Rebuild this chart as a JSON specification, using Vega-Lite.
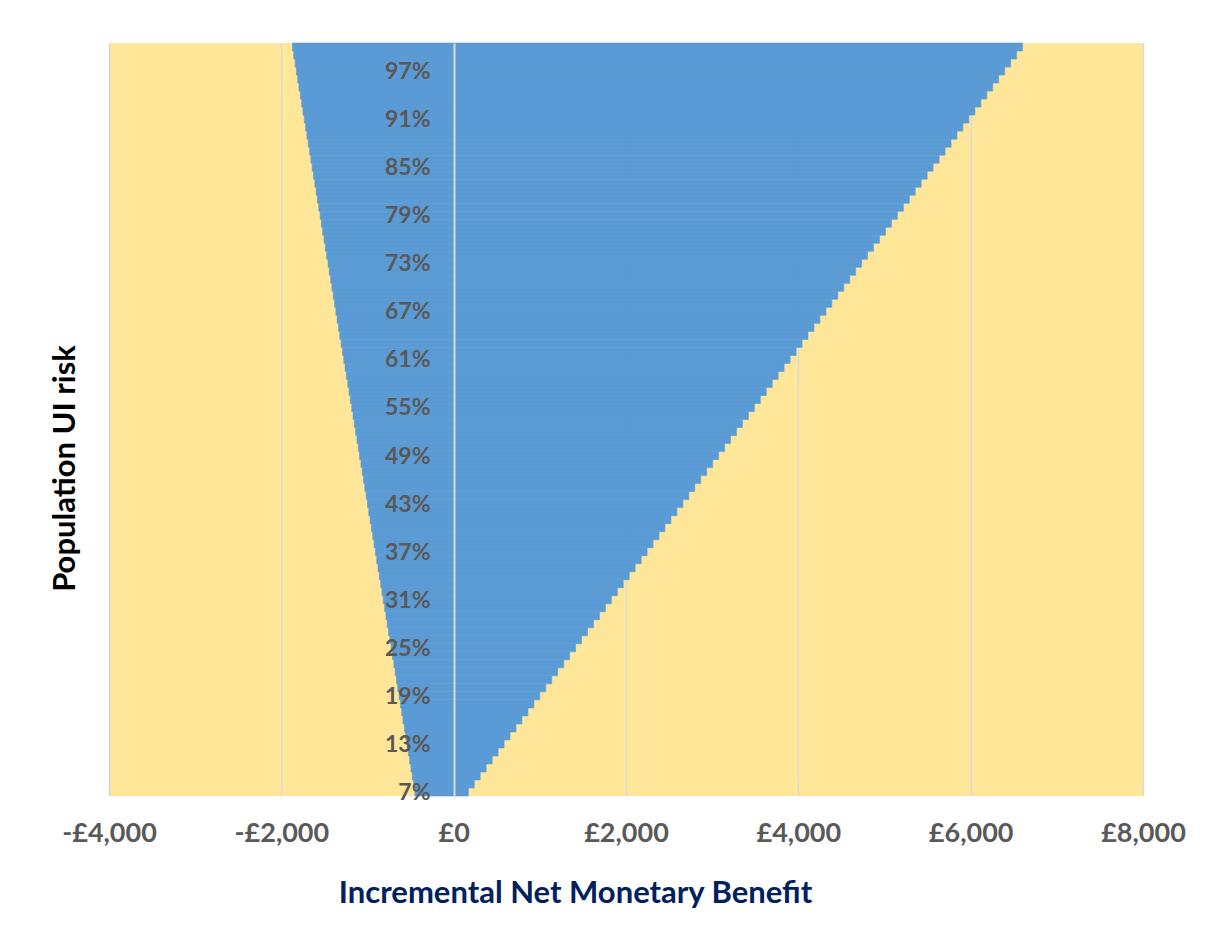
{
  "$schema": "https://vega.github.io/schema/vega-lite/v6.json",
  "width": 1034,
  "height": 753,
  "autosize": {"type": "none"},
  "padding": {"left": 109, "top": 43, "right": 67, "bottom": 135},
  "background": "white",
  "config": {
    "view": {"fill": "#FFE699", "stroke": null},
    "font": "Lato"
  },
  "data": {
    "values": [
      {"risk": 7, "lo": -450, "hi": 170},
      {"risk": 8, "lo": -465, "hi": 239},
      {"risk": 9, "lo": -481, "hi": 308},
      {"risk": 10, "lo": -496, "hi": 377},
      {"risk": 11, "lo": -511, "hi": 447},
      {"risk": 12, "lo": -526, "hi": 516},
      {"risk": 13, "lo": -542, "hi": 585},
      {"risk": 14, "lo": -557, "hi": 654},
      {"risk": 15, "lo": -572, "hi": 723},
      {"risk": 16, "lo": -588, "hi": 792},
      {"risk": 17, "lo": -603, "hi": 862},
      {"risk": 18, "lo": -618, "hi": 931},
      {"risk": 19, "lo": -633, "hi": 1000},
      {"risk": 20, "lo": -649, "hi": 1069},
      {"risk": 21, "lo": -664, "hi": 1138},
      {"risk": 22, "lo": -679, "hi": 1207},
      {"risk": 23, "lo": -694, "hi": 1277},
      {"risk": 24, "lo": -710, "hi": 1346},
      {"risk": 25, "lo": -725, "hi": 1415},
      {"risk": 26, "lo": -740, "hi": 1484},
      {"risk": 27, "lo": -756, "hi": 1553},
      {"risk": 28, "lo": -771, "hi": 1622},
      {"risk": 29, "lo": -786, "hi": 1692},
      {"risk": 30, "lo": -801, "hi": 1761},
      {"risk": 31, "lo": -817, "hi": 1830},
      {"risk": 32, "lo": -832, "hi": 1899},
      {"risk": 33, "lo": -847, "hi": 1968},
      {"risk": 34, "lo": -863, "hi": 2037},
      {"risk": 35, "lo": -878, "hi": 2106},
      {"risk": 36, "lo": -893, "hi": 2176},
      {"risk": 37, "lo": -908, "hi": 2245},
      {"risk": 38, "lo": -924, "hi": 2314},
      {"risk": 39, "lo": -939, "hi": 2383},
      {"risk": 40, "lo": -954, "hi": 2452},
      {"risk": 41, "lo": -970, "hi": 2521},
      {"risk": 42, "lo": -985, "hi": 2591},
      {"risk": 43, "lo": -1000, "hi": 2660},
      {"risk": 44, "lo": -1015, "hi": 2729},
      {"risk": 45, "lo": -1031, "hi": 2798},
      {"risk": 46, "lo": -1046, "hi": 2867},
      {"risk": 47, "lo": -1061, "hi": 2936},
      {"risk": 48, "lo": -1076, "hi": 3006},
      {"risk": 49, "lo": -1092, "hi": 3075},
      {"risk": 50, "lo": -1107, "hi": 3144},
      {"risk": 51, "lo": -1122, "hi": 3213},
      {"risk": 52, "lo": -1138, "hi": 3282},
      {"risk": 53, "lo": -1153, "hi": 3351},
      {"risk": 54, "lo": -1168, "hi": 3421},
      {"risk": 55, "lo": -1183, "hi": 3490},
      {"risk": 56, "lo": -1199, "hi": 3559},
      {"risk": 57, "lo": -1214, "hi": 3628},
      {"risk": 58, "lo": -1229, "hi": 3697},
      {"risk": 59, "lo": -1245, "hi": 3766},
      {"risk": 60, "lo": -1260, "hi": 3835},
      {"risk": 61, "lo": -1275, "hi": 3905},
      {"risk": 62, "lo": -1290, "hi": 3974},
      {"risk": 63, "lo": -1306, "hi": 4043},
      {"risk": 64, "lo": -1321, "hi": 4112},
      {"risk": 65, "lo": -1336, "hi": 4181},
      {"risk": 66, "lo": -1352, "hi": 4250},
      {"risk": 67, "lo": -1367, "hi": 4320},
      {"risk": 68, "lo": -1382, "hi": 4389},
      {"risk": 69, "lo": -1397, "hi": 4458},
      {"risk": 70, "lo": -1413, "hi": 4527},
      {"risk": 71, "lo": -1428, "hi": 4596},
      {"risk": 72, "lo": -1443, "hi": 4665},
      {"risk": 73, "lo": -1458, "hi": 4735},
      {"risk": 74, "lo": -1474, "hi": 4804},
      {"risk": 75, "lo": -1489, "hi": 4873},
      {"risk": 76, "lo": -1504, "hi": 4942},
      {"risk": 77, "lo": -1520, "hi": 5011},
      {"risk": 78, "lo": -1535, "hi": 5080},
      {"risk": 79, "lo": -1550, "hi": 5150},
      {"risk": 80, "lo": -1565, "hi": 5219},
      {"risk": 81, "lo": -1581, "hi": 5288},
      {"risk": 82, "lo": -1596, "hi": 5357},
      {"risk": 83, "lo": -1611, "hi": 5426},
      {"risk": 84, "lo": -1627, "hi": 5495},
      {"risk": 85, "lo": -1642, "hi": 5564},
      {"risk": 86, "lo": -1657, "hi": 5634},
      {"risk": 87, "lo": -1672, "hi": 5703},
      {"risk": 88, "lo": -1688, "hi": 5772},
      {"risk": 89, "lo": -1703, "hi": 5841},
      {"risk": 90, "lo": -1718, "hi": 5910},
      {"risk": 91, "lo": -1734, "hi": 5979},
      {"risk": 92, "lo": -1749, "hi": 6049},
      {"risk": 93, "lo": -1764, "hi": 6118},
      {"risk": 94, "lo": -1779, "hi": 6187},
      {"risk": 95, "lo": -1795, "hi": 6256},
      {"risk": 96, "lo": -1810, "hi": 6325},
      {"risk": 97, "lo": -1825, "hi": 6394},
      {"risk": 98, "lo": -1840, "hi": 6464},
      {"risk": 99, "lo": -1856, "hi": 6533},
      {"risk": 100, "lo": -1871, "hi": 6602}
    ]
  },
  "mark": {"type": "bar", "color": "#5B9BD5", "stroke": "#5B9BD5", "strokeWidth": 0.6},
  "encoding": {
    "y": {
      "field": "risk",
      "type": "ordinal",
      "sort": "descending",
      "scale": {"paddingInner": 0, "paddingOuter": 0},
      "axis": {
        "values": [7, 13, 19, 25, 31, 37, 43, 49, 55, 61, 67, 73, 79, 85, 91, 97],
        "labelExpr": "datum.value + '%'",
        "offset": -345,
        "zindex": 1,
        "grid": false,
        "ticks": false,
        "domainColor": "#D9D9D9",
        "domainWidth": 2,
        "labelPadding": 24,
        "labelFont": "Lato",
        "labelFontWeight": "bold",
        "labelFontSize": 23,
        "labelColor": "#595959",
        "labelOffset": 1,
        "title": "Population UI risk",
        "titleFont": "Lato",
        "titleFontSize": 31,
        "titleFontWeight": "bold",
        "titleColor": "#000000",
        "titleAngle": 270,
        "titleX": -389,
        "titleY": 425,
        "titleAlign": "center",
        "titleBaseline": "middle"
      }
    },
    "x": {
      "field": "lo",
      "type": "quantitative",
      "scale": {"domain": [-4000, 8000], "nice": false, "zero": false},
      "axis": {
        "values": [-4000, -2000, 0, 2000, 4000, 6000, 8000],
        "labelExpr": "(datum.value < 0 ? '-' : '') + '£' + format(abs(datum.value), ',.0f')",
        "grid": true,
        "gridColor": "#D9D9D9",
        "gridWidth": 1.5,
        "domain": false,
        "ticks": false,
        "labelPadding": 24,
        "labelFont": "Lato",
        "labelFontWeight": "bold",
        "labelFontSize": 27,
        "labelColor": "#595959",
        "labelFlush": false,
        "title": "Incremental Net Monetary Benefit",
        "titleFont": "Lato",
        "titleFontSize": 31,
        "titleFontWeight": "bold",
        "titleColor": "#002060",
        "titleX": 466,
        "titleY": 97,
        "titleAlign": "center",
        "titleBaseline": "middle"
      }
    },
    "x2": {"field": "hi"}
  }
}
